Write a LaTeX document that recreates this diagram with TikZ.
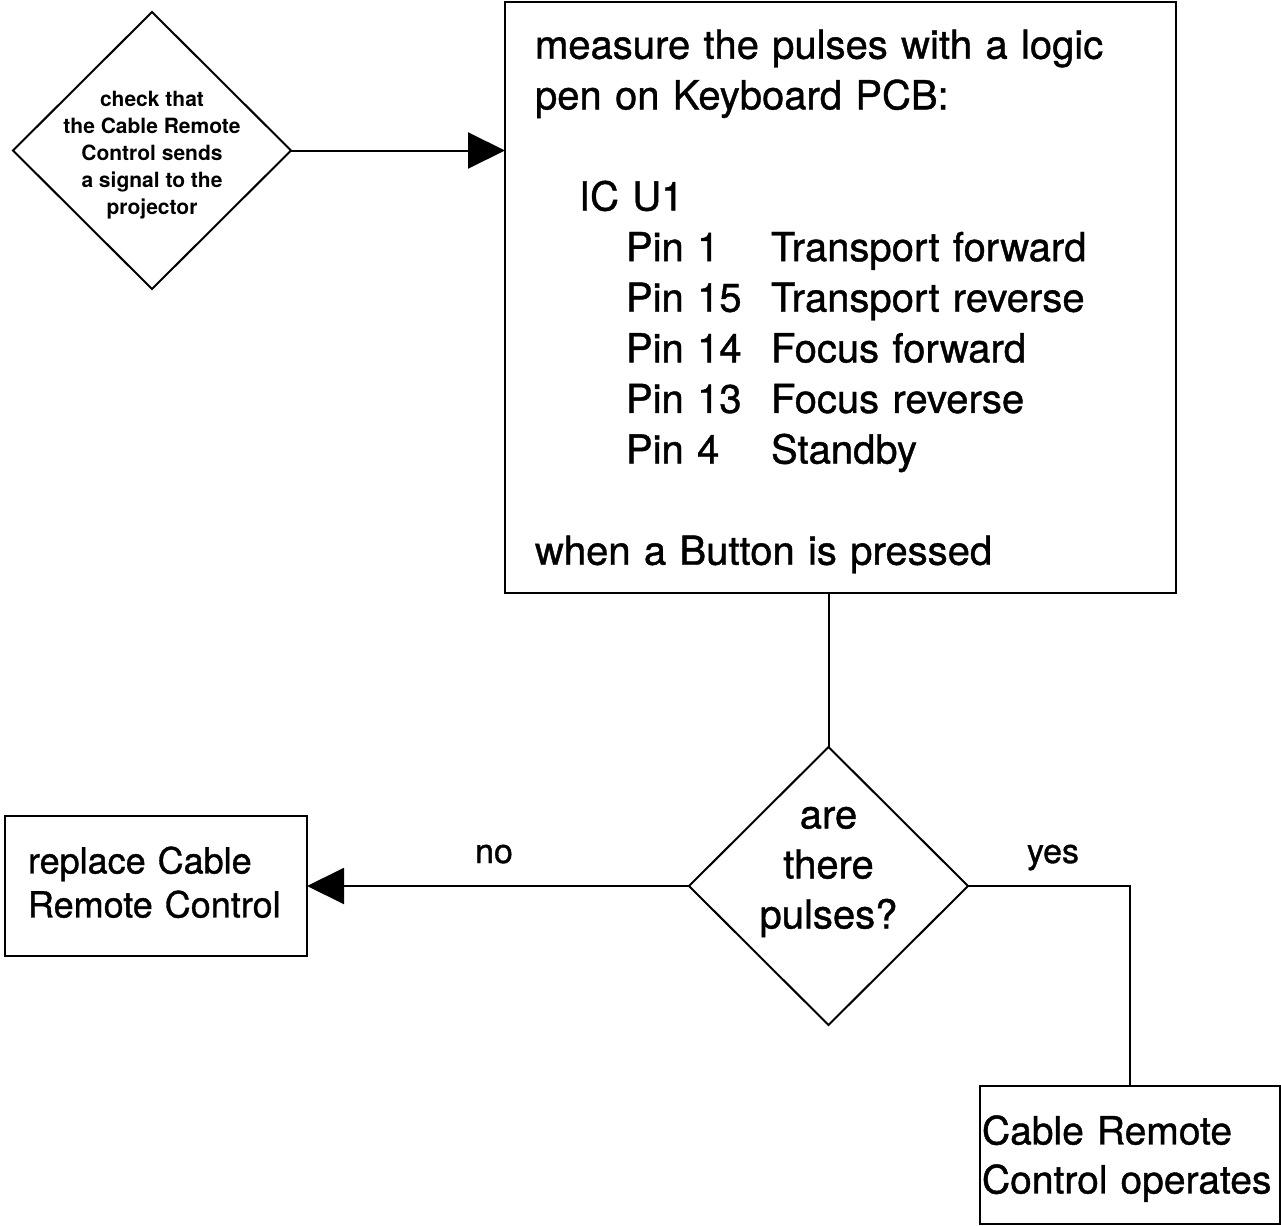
\documentclass[tikz,border=0pt]{standalone}
\usepackage{fontspec}
\setmainfont{TeX Gyre Heros}[FakeBold=1]
\newfontfamily\smallbold{TeX Gyre Heros Bold}
\usetikzlibrary{shapes.geometric,arrows.meta}
\begin{document}
\begin{tikzpicture}[x=0.5pt,y=-0.5pt,
  line width=1pt,
  dia/.style={draw,diamond,inner sep=0pt,outer sep=0pt},
  boxn/.style={draw,rectangle,outer sep=0pt,align=left},
  arr/.style={-{Triangle[length=18.5pt,width=18pt]}},
  lbl/.style={font=\fontsize{17}{20}\selectfont,anchor=base}
]
\useasboundingbox (0,0) rectangle (1281,1226);
% decision nodes
\node[dia,minimum width=139pt,minimum height=138.5pt,
  label={[font=\smallbold\fontsize{10.5}{13.5}\selectfont,align=center,yshift=-2.5pt]center:check that\\the Cable Remote\\Control sends\\a signal to the\\projector}] (d1) at (152,150.5) {};
\node[dia,minimum width=139.5pt,minimum height=139pt,
  label={[font=\fontsize{20}{25}\selectfont,align=center,yshift=7pt]center:are\\there\\pulses?}] (d2) at (828.5,886) {};
% main box
\node[boxn,minimum width=335.5pt,minimum height=295.5pt,text width=305.5pt,inner xsep=15pt,
  font=\fontsize{20}{25.3}\selectfont] (m) at (840.5,297.5)
  {\rule{0pt}{18.6pt}measure the pulses with a logic\\pen on Keyboard PCB:\\\mbox{}\\
   \hspace*{22pt}IC U1\\
   \hspace*{45.5pt}\makebox[72.5pt][l]{Pin 1}Transport forward\\
   \hspace*{45.5pt}\makebox[72.5pt][l]{Pin 15}Transport reverse\\
   \hspace*{45.5pt}\makebox[72.5pt][l]{Pin 14}Focus forward\\
   \hspace*{45.5pt}\makebox[72.5pt][l]{Pin 13}Focus reverse\\
   \hspace*{45.5pt}\makebox[72.5pt][l]{Pin 4}Standby\\\mbox{}\\
   when a Button is pressed};
% result boxes
\node[boxn,minimum width=151pt,minimum height=70pt,text width=128pt,inner xsep=11.5pt,
  font=\fontsize{18}{22}\selectfont] (r) at (156,886)
  {replace Cable\\Remote Control\rule[-4pt]{0pt}{4pt}};
\node[boxn,minimum width=150pt,minimum height=69pt,text width=148pt,inner xsep=1pt,
  font=\fontsize{19.5}{24.5}\selectfont] (o) at (1130,1155)
  {\rule{0pt}{18.2pt}Cable Remote\\Control operates};
% connectors
\draw[arr] (d1.east) -- (d1.east -| m.west);
\draw (d2.north |- m.south) -- (d2.north);
\draw[arr] (d2.west) -- (d2.west -| r.east);
\draw (d2.east) -| (o.north);
% labels
\node[lbl] (no) at (494,863) {no};
\node[lbl] (yes) at (1053,863) {yes};
\end{tikzpicture}
\end{document}
